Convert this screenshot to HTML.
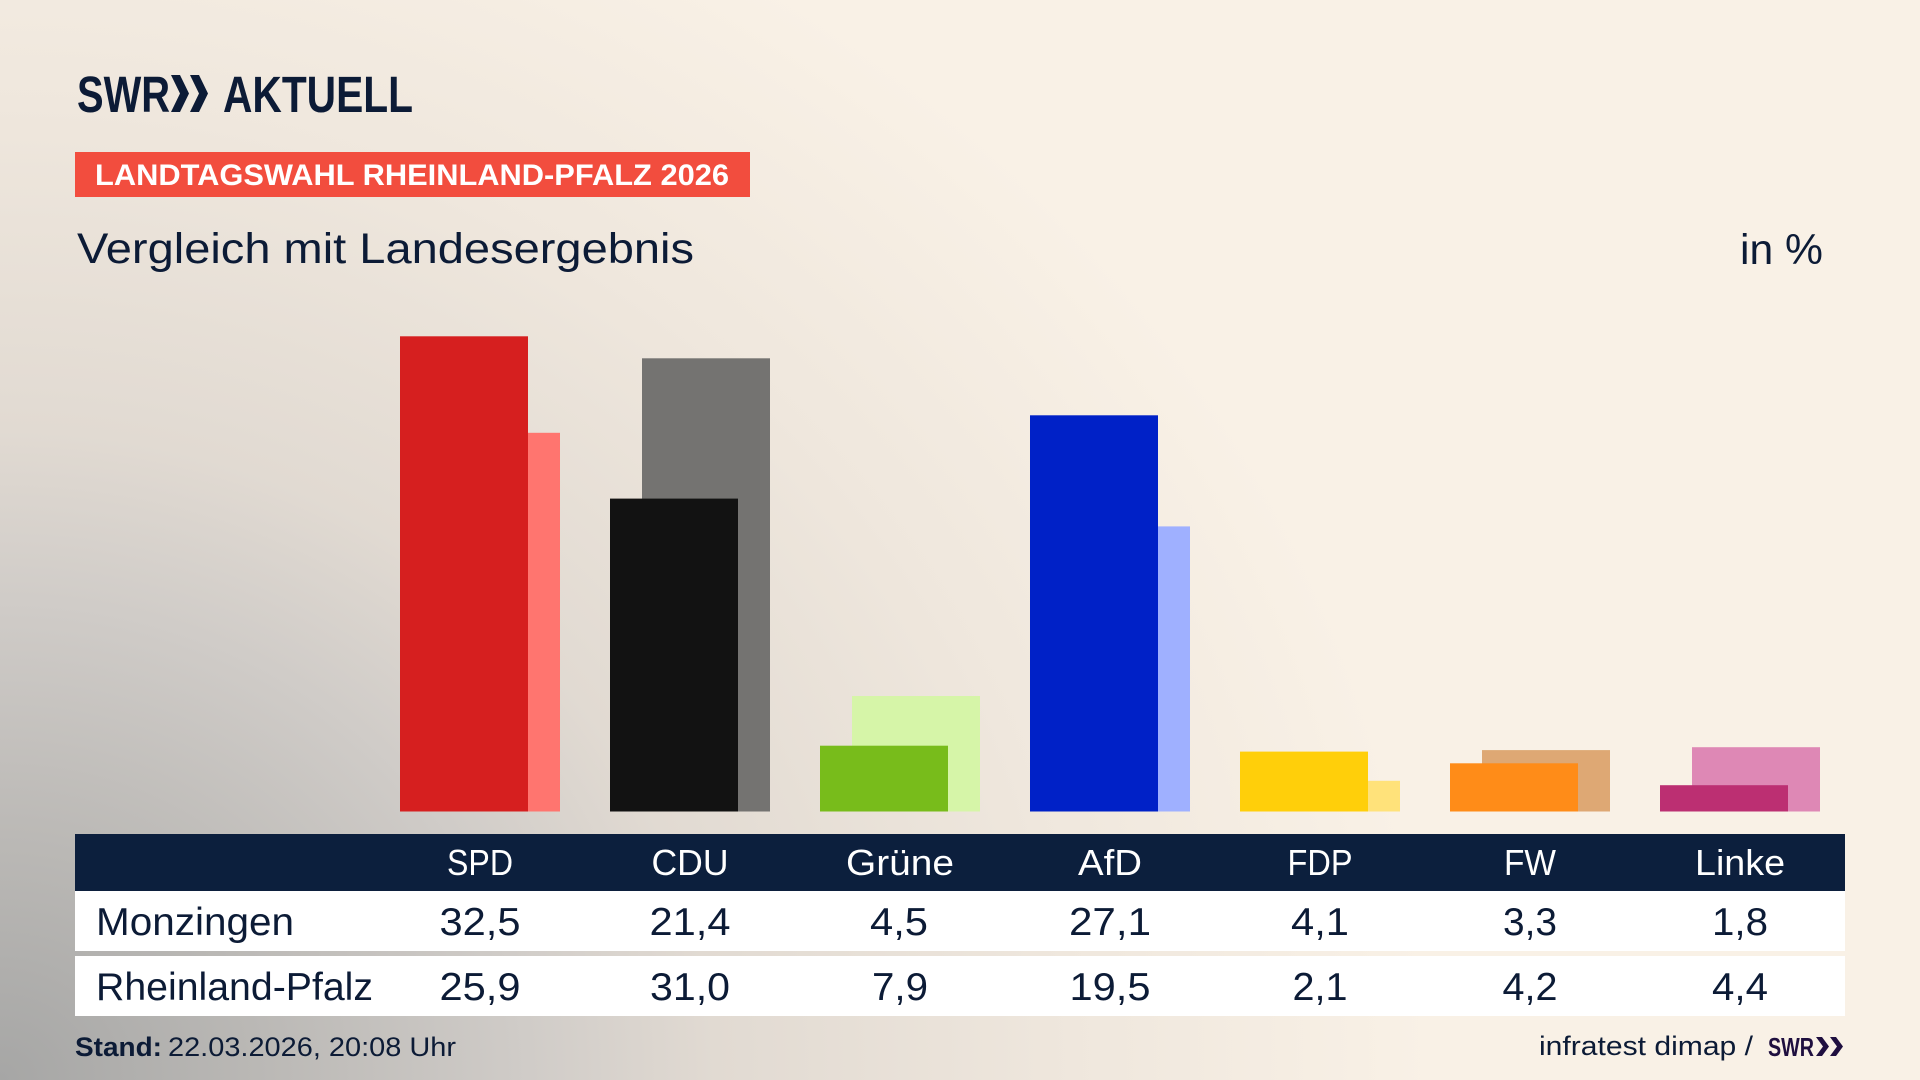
<!DOCTYPE html>
<html>
<head>
<meta charset="utf-8">
<style>
html,body{margin:0;padding:0;width:1920px;height:1080px;overflow:hidden;}
body{background:radial-gradient(ellipse 1430px 1300px at 0px 1080px,#a6a6a5 0%,#bab8b5 18%,#d0ccc8 37%,#e1dad2 50%,#efe7dd 75%,#f9f1e6 100%);}
svg{position:absolute;left:0;top:0;}
text{font-family:"Liberation Sans",sans-serif;}
</style>
</head>
<body>
<svg width="1920" height="1080" viewBox="0 0 1920 1080" xmlns="http://www.w3.org/2000/svg">
  <!-- Logo -->
  <g fill="#0c1b36">
    <text x="77" y="112" font-size="51" font-weight="bold" textLength="93" lengthAdjust="spacingAndGlyphs">SWR</text>
    <polygon points="171,75 180,75 189,93.5 180,112 171,112 180,93.5"/>
    <polygon points="190,75 199,75 208,93.5 199,112 190,112 199,93.5"/>
    <text x="223" y="112" font-size="51" font-weight="bold" textLength="190" lengthAdjust="spacingAndGlyphs">AKTUELL</text>
  </g>

  <!-- Banner -->
  <rect x="75" y="152" width="675" height="45" fill="#f24d3e"/>
  <text x="95" y="185" font-size="30" font-weight="bold" fill="#ffffff" textLength="634" lengthAdjust="spacingAndGlyphs">LANDTAGSWAHL RHEINLAND-PFALZ 2026</text>

  <!-- Subtitle -->
  <text x="77" y="263" font-size="43" fill="#0c1b36" textLength="617" lengthAdjust="spacingAndGlyphs">Vergleich mit Landesergebnis</text>
  <text x="1740" y="264" font-size="43" fill="#0c1b36" textLength="83" lengthAdjust="spacingAndGlyphs">in %</text>

  <!-- Bars -->
  <rect x="432" y="432.8" width="128" height="378.7" fill="#ff756f"/>
  <rect x="400" y="336.3" width="128" height="475.2" fill="#d61f1f"/>

  <rect x="642" y="358.3" width="128" height="453.2" fill="#747371"/>
  <rect x="610" y="498.6" width="128" height="312.9" fill="#121212"/>

  <rect x="852" y="696" width="128" height="115.5" fill="#d6f5a8"/>
  <rect x="820" y="745.7" width="128" height="65.8" fill="#78bc1b"/>

  <rect x="1062" y="526.4" width="128" height="285.1" fill="#9fb0ff"/>
  <rect x="1030" y="415.3" width="128" height="396.2" fill="#0021c7"/>

  <rect x="1272" y="780.8" width="128" height="30.7" fill="#ffe27a"/>
  <rect x="1240" y="751.6" width="128" height="59.9" fill="#ffcf0a"/>

  <rect x="1482" y="750.1" width="128" height="61.4" fill="#dea874"/>
  <rect x="1450" y="763.3" width="128" height="48.2" fill="#ff8c18"/>

  <rect x="1692" y="747.2" width="128" height="64.3" fill="#de88b5"/>
  <rect x="1660" y="785.2" width="128" height="26.3" fill="#bc2f72"/>

  <!-- Table -->
  <rect x="75" y="834" width="1770" height="57" fill="#0c1f3d"/>
  <rect x="75" y="891" width="1770" height="60" fill="#ffffff"/>
  <rect x="75" y="956" width="1770" height="60" fill="#ffffff"/>

  <g font-size="36" fill="#ffffff" text-anchor="middle">
    <text x="480" y="875" textLength="66" lengthAdjust="spacingAndGlyphs">SPD</text>
    <text x="690" y="875" textLength="77" lengthAdjust="spacingAndGlyphs">CDU</text>
    <text x="900" y="875" textLength="108" lengthAdjust="spacingAndGlyphs">Grüne</text>
    <text x="1110" y="875" textLength="64" lengthAdjust="spacingAndGlyphs">AfD</text>
    <text x="1320" y="875" textLength="65" lengthAdjust="spacingAndGlyphs">FDP</text>
    <text x="1530" y="875" textLength="52" lengthAdjust="spacingAndGlyphs">FW</text>
    <text x="1740" y="875" textLength="90" lengthAdjust="spacingAndGlyphs">Linke</text>
  </g>

  <g font-size="38.5" fill="#0c1b36">
    <text x="96" y="935" textLength="198" lengthAdjust="spacingAndGlyphs">Monzingen</text>
    <text x="96" y="1000" textLength="277" lengthAdjust="spacingAndGlyphs">Rheinland-Pfalz</text>
  </g>
  <g font-size="38.5" fill="#0c1b36" text-anchor="middle">
    <text x="480" y="935" textLength="81" lengthAdjust="spacingAndGlyphs">32,5</text>
    <text x="690" y="935" textLength="81" lengthAdjust="spacingAndGlyphs">21,4</text>
    <text x="899" y="935" textLength="58" lengthAdjust="spacingAndGlyphs">4,5</text>
    <text x="1110" y="935" textLength="82" lengthAdjust="spacingAndGlyphs">27,1</text>
    <text x="1320" y="935" textLength="58" lengthAdjust="spacingAndGlyphs">4,1</text>
    <text x="1530" y="935" textLength="54" lengthAdjust="spacingAndGlyphs">3,3</text>
    <text x="1740" y="935" textLength="56" lengthAdjust="spacingAndGlyphs">1,8</text>

    <text x="480" y="1000" textLength="81" lengthAdjust="spacingAndGlyphs">25,9</text>
    <text x="690" y="1000" textLength="80" lengthAdjust="spacingAndGlyphs">31,0</text>
    <text x="900" y="1000" textLength="56" lengthAdjust="spacingAndGlyphs">7,9</text>
    <text x="1110" y="1000" textLength="81" lengthAdjust="spacingAndGlyphs">19,5</text>
    <text x="1320" y="1000" textLength="55" lengthAdjust="spacingAndGlyphs">2,1</text>
    <text x="1530" y="1000" textLength="55" lengthAdjust="spacingAndGlyphs">4,2</text>
    <text x="1740" y="1000" textLength="56" lengthAdjust="spacingAndGlyphs">4,4</text>
  </g>

  <!-- Footer -->
  <text x="75" y="1056" font-size="27" font-weight="bold" fill="#0c1b36" textLength="87" lengthAdjust="spacingAndGlyphs">Stand:</text>
  <text x="168" y="1056" font-size="27" fill="#0c1b36" textLength="288" lengthAdjust="spacingAndGlyphs">22.03.2026, 20:08 Uhr</text>

  <text x="1539" y="1055" font-size="27" fill="#0c1b36" textLength="214" lengthAdjust="spacingAndGlyphs">infratest dimap /</text>
  <g fill="#1f0f3f">
    <text x="1768" y="1056" font-size="26" font-weight="bold" textLength="46" lengthAdjust="spacingAndGlyphs">SWR</text>
    <polygon points="1816,1037 1822,1037 1829,1046.5 1822,1056 1816,1056 1823,1046.5"/>
    <polygon points="1830,1037 1836,1037 1843,1046.5 1836,1056 1830,1056 1837,1046.5"/>
  </g>
</svg>
</body>
</html>
